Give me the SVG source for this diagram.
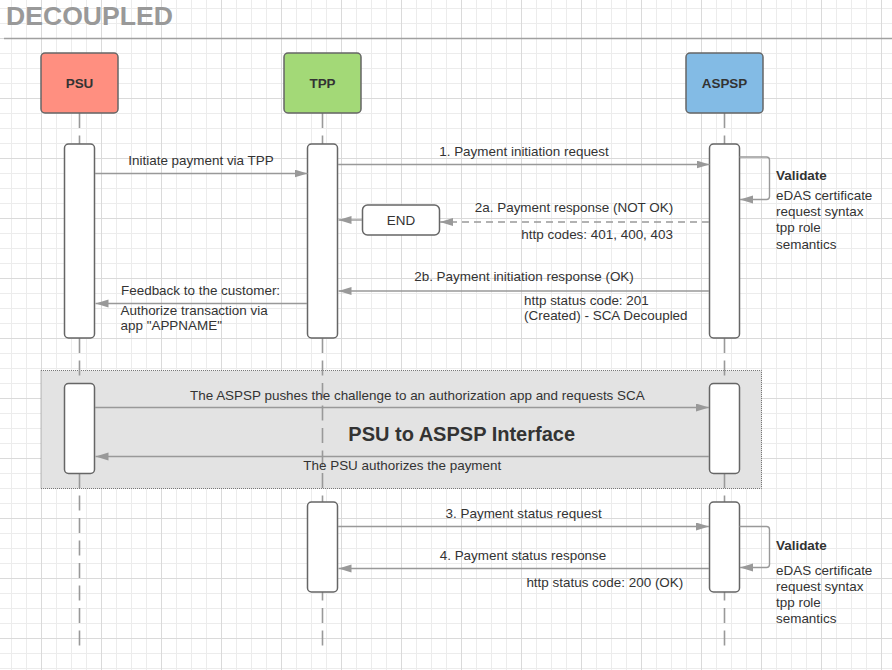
<svg xmlns="http://www.w3.org/2000/svg" width="892" height="670" viewBox="0 0 892 670">
<defs>
<pattern id="grid" x="41" y="38" width="60" height="60" patternUnits="userSpaceOnUse">
<path d="M15.5,0V60M30.5,0V60M45.5,0V60M0,15.5H60M0,30.5H60M0,45.5H60" stroke="#ececec" stroke-width="1" fill="none"/>
<path d="M0.5,0V60M0,0.5H60" stroke="#dadada" stroke-width="1" fill="none"/>
</pattern>
<marker id="ah" markerUnits="userSpaceOnUse" markerWidth="14" markerHeight="9" refX="13" refY="4" orient="auto">
<path d="M0,0L13,4L0,8z" fill="#999"/>
</marker>
</defs>
<style>
text{font-family:"Liberation Sans",Arial,sans-serif;font-size:13.45px;fill:#333}
.b{font-weight:bold}
.m{text-anchor:middle}
.e{text-anchor:end}
.node{stroke:#666;stroke-width:1.5}
.act{fill:#fff;stroke:#666;stroke-width:1.5}
.life{stroke:#999;stroke-width:1.6;stroke-dasharray:15 7.5;fill:none}
.msg{stroke:#999;stroke-width:1.4;fill:none;marker-end:url(#ah)}
.dash{stroke-dasharray:7 5}
</style>
<rect width="892" height="670" fill="#fff"/>
<rect width="892" height="670" fill="url(#grid)"/>
<text x="6" y="25" class="b" style="font-size:26.6px;fill:#999">DECOUPLED</text>
<line x1="4" y1="38.5" x2="892" y2="38.5" stroke="#a0a0a0" stroke-width="1.5"/>

<g id="frame-psu-aspsp">
<rect x="41" y="370.5" width="720.5" height="118" fill="#e3e3e3" stroke="#777" stroke-width="1" stroke-dasharray="1 1"/>
<text x="348.3" y="441" class="b" style="font-size:20px">PSU to ASPSP Interface</text>
</g>

<g id="lifelines">
<line class="life" x1="79.5" y1="113" x2="79.5" y2="653"/>
<line class="life" x1="322.5" y1="113" x2="322.5" y2="653"/>
<line class="life" x1="724.5" y1="113" x2="724.5" y2="653"/>
</g>

<g id="psu">
<rect class="node" x="41" y="53" width="77" height="60" rx="4" fill="#ff8f80"/>
<text x="79.5" y="88" class="b m">PSU</text>
</g>
<g id="tpp">
<rect class="node" x="284" y="53" width="77" height="60" rx="4" fill="#a3d977"/>
<text x="322.5" y="88" class="b m">TPP</text>
</g>
<g id="aspsp">
<rect class="node" x="686" y="53" width="77" height="60" rx="4" fill="#83bbe5"/>
<text x="724.5" y="88" class="b m">ASPSP</text>
</g>

<g id="activations">
<rect class="act" x="64.5" y="144" width="30" height="194" rx="4"/>
<rect class="act" x="307.5" y="144" width="30" height="194" rx="4"/>
<rect class="act" x="709.5" y="144" width="30" height="194" rx="4"/>
<rect class="act" x="64.5" y="383.5" width="30" height="90" rx="4"/>
<rect class="act" x="709.5" y="383.5" width="30" height="90" rx="4"/>
<rect class="act" x="307.5" y="502" width="30" height="90" rx="4"/>
<rect class="act" x="709.5" y="502" width="30" height="90" rx="4"/>
</g>

<g id="end">
<rect x="362.5" y="205" width="77" height="30" rx="5" fill="#fff" stroke="#666" stroke-width="1.5"/>
<text x="401" y="224.5" class="m">END</text>
</g>

<g id="connectors">
<line class="msg" x1="95" y1="173.5" x2="307.5" y2="173.5"/>
<line class="msg" x1="338" y1="164.5" x2="709.5" y2="164.5"/>
<path class="msg" d="M739.5,157H766.5Q769.5,157 769.5,160V196.5Q769.5,199.5 766.5,199.5H740"/>
<line class="msg dash" x1="709" y1="222" x2="440" y2="222"/>
<line class="msg" x1="362" y1="220" x2="338.5" y2="220"/>
<line class="msg" x1="709" y1="291" x2="338.5" y2="291"/>
<line class="msg" x1="307" y1="303.5" x2="95.5" y2="303.5"/>
<line class="msg" x1="95" y1="407.5" x2="709" y2="407.5"/>
<line class="msg" x1="709" y1="456.5" x2="95.5" y2="456.5"/>
<line class="msg" x1="338" y1="526.5" x2="709" y2="526.5"/>
<path class="msg" d="M739.5,526.5H766.5Q769.5,526.5 769.5,529.5V564.5Q769.5,567.5 766.5,567.5H740"/>
<line class="msg" x1="709" y1="568.5" x2="338.5" y2="568.5"/>
</g>

<g id="labels">
<text x="201" y="165" class="m">Initiate payment via TPP</text>
<text x="524" y="156" class="m">1. Payment initiation request</text>
<text x="776" y="180" class="b">Validate</text>
<text x="776" y="199.5">eDAS certificate</text>
<text x="776" y="216">request syntax</text>
<text x="776" y="232">tpp role</text>
<text x="776" y="248.5">semantics</text>
<text x="574" y="212" class="m">2a. Payment response (NOT OK)</text>
<text x="673" y="238.5" class="e">http codes: 401, 400, 403</text>
<text x="524" y="281" class="m">2b. Payment initiation response (OK)</text>
<text x="524" y="305">http status code: 201</text>
<text x="524" y="320">(Created) - SCA Decoupled</text>
<text x="121" y="295">Feedback to the customer:</text>
<text x="120.5" y="315">Authorize transaction via</text>
<text x="120.5" y="330">app "APPNAME"</text>
<text x="190" y="399.5">The ASPSP pushes the challenge to an authorization app and requests SCA</text>
<text x="303.3" y="470">The PSU authorizes the payment</text>
<text x="523.6" y="517.5" class="m">3. Payment status request</text>
<text x="523" y="559.5" class="m">4. Payment status response</text>
<text x="526.4" y="586.7">http status code: 200 (OK)</text>
<text x="776" y="549.5" class="b">Validate</text>
<text x="776" y="574.5">eDAS certificate</text>
<text x="776" y="591">request syntax</text>
<text x="776" y="607">tpp role</text>
<text x="776" y="623">semantics</text>
</g>
</svg>
